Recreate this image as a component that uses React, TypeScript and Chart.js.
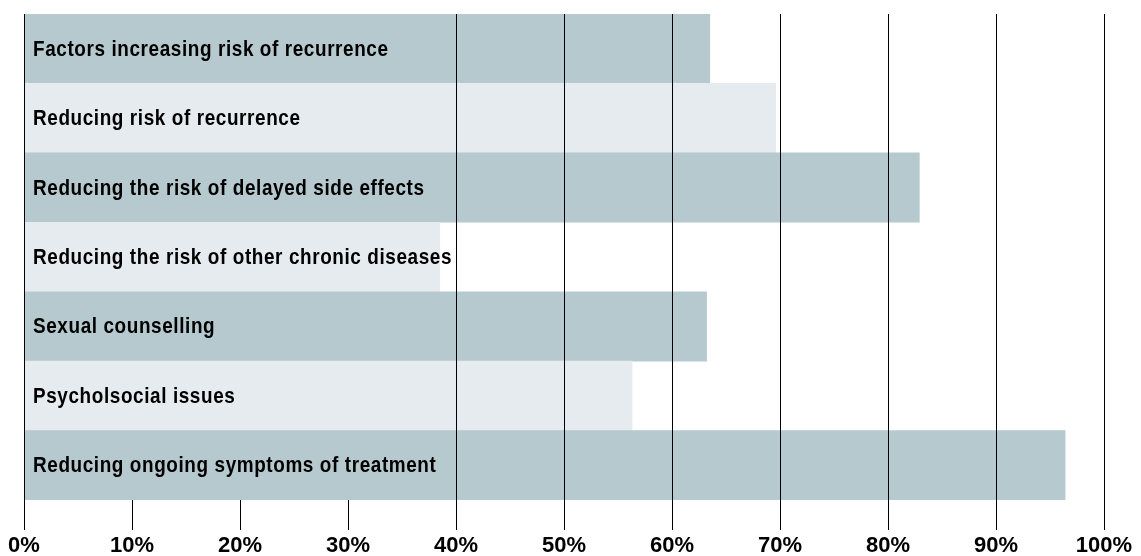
import React, { useEffect, useRef } from "react";
import { Chart, registerables } from "chart.js";

Chart.register(...registerables);

const categories = [
  "Factors increasing risk of recurrence",
  "Reducing risk of recurrence",
  "Reducing the risk of delayed side effects",
  "Reducing the risk of other chronic diseases",
  "Sexual counselling",
  "Psycholsocial issues",
  "Reducing ongoing symptoms of treatment",
];
const values = [63.5, 69.6, 82.9, 38.5, 63.2, 56.3, 96.4];
const barColors = ["#b5c9ce", "#e5ebee", "#b5c9ce", "#e5ebee", "#b5c9ce", "#e5ebee", "#b5c9ce"];
const xTicks = [0, 10, 20, 30, 40, 50, 60, 70, 80, 90, 100];
const overlayTicks = [0, 40, 50, 60, 70, 80, 90, 100];

const LABEL_FONT = "bold 22px 'Liberation Sans', Arial, sans-serif";
const LABEL_SQUEEZE = 0.86;
const TICK_FONT_FAMILY = "'Liberation Sans', Arial, sans-serif";

const overlayPlugin = {
  id: "overlay",
  afterDatasetsDraw(chart: any) {
    const { ctx, chartArea, scales } = chart;
    const x = scales.x;
    const y = scales.y;
    ctx.save();
    ctx.strokeStyle = "#000";
    ctx.lineWidth = 1;
    overlayTicks.forEach((t) => {
      const px = Math.round(x.getPixelForValue(t)) + 0.5;
      ctx.beginPath();
      ctx.moveTo(px, chartArea.top);
      ctx.lineTo(px, chartArea.bottom + 30);
      ctx.stroke();
    });
    ctx.restore();
    categories.forEach((c, i) => {
      const py = y.getPixelForValue(i);
      ctx.save();
      ctx.translate(chartArea.left + 9, py + 1);
      ctx.scale(LABEL_SQUEEZE, 1);
      ctx.fillStyle = "#000";
      ctx.font = LABEL_FONT;
      try {
        (ctx as any).letterSpacing = "0.7px";
      } catch (e) {}
      ctx.textAlign = "left";
      ctx.textBaseline = "middle";
      ctx.fillText(c, 0, 0);
      ctx.restore();
    });
  },
};

export default function App() {
  const ref = useRef<HTMLCanvasElement | null>(null);
  useEffect(() => {
    document.body.style.margin = "0";
    const chart = new Chart(ref.current as HTMLCanvasElement, {
      type: "bar",
      data: {
        labels: categories,
        datasets: [
          {
            data: values,
            backgroundColor: barColors,
            borderWidth: 0,
            barPercentage: 1,
            categoryPercentage: 1,
          },
        ],
      },
      options: {
        indexAxis: "y",
        animation: false,
        responsive: false,
        maintainAspectRatio: false,
        layout: { padding: { left: 24, right: 37, top: 14, bottom: 0 } },
        plugins: { legend: { display: false }, tooltip: { enabled: false } },
        scales: {
          x: {
            min: 0,
            max: 100,
            afterBuildTicks(scale: any) {
              scale.ticks = xTicks.map((v) => ({ value: v }));
            },
            afterFit(scale: any) {
              scale.height = 56;
            },
            grid: {
              color: "#000",
              lineWidth: 1,
              tickLength: 30,
              drawOnChartArea: true,
            },
            border: { display: false },
            ticks: {
              color: "#000",
              padding: 5,
              font: { family: TICK_FONT_FAMILY, size: 22, weight: "bold", lineHeight: 1 },
              callback: (v: any) => v + "%",
              maxRotation: 0,
              autoSkip: false,
            },
          },
          y: {
            display: false,
            grid: { display: false },
          },
        },
      },
      plugins: [overlayPlugin],
    } as any);
    return () => chart.destroy();
  }, []);
  return (
    <div style={{ position: "fixed", left: 0, top: 0, width: 1141, height: 556, background: "#fff" }}>
      <canvas ref={ref} width={1141} height={556} style={{ width: 1141, height: 556 }} />
    </div>
  );
}
